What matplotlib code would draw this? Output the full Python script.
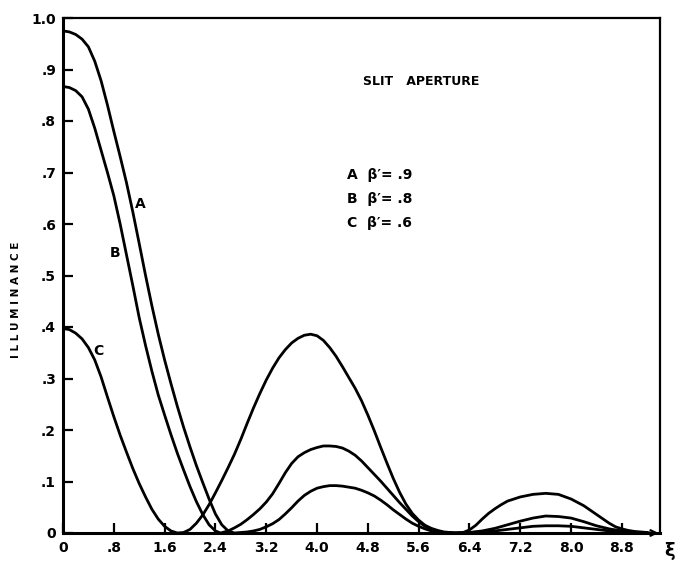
import matplotlib
matplotlib.use("Agg")
import matplotlib.pyplot as plt

# Illuminance profiles for a slit aperture, three coherence values
a_xi = [0.0, 0.1, 0.2, 0.3, 0.4, 0.5, 0.6, 0.7, 0.8, 0.9, 1.0, 1.1, 1.2, 1.3, 1.4,
        1.5, 1.6, 1.7, 1.8, 1.9, 2.0, 2.1, 2.2, 2.3, 2.4, 2.5, 2.6, 2.7, 2.8, 2.9,
        3.0, 3.1, 3.2, 3.3, 3.4, 3.5, 3.6, 3.7, 3.8, 3.9, 4.0, 4.1, 4.2, 4.3, 4.4,
        4.5, 4.6, 4.7, 4.8, 4.9, 5.0, 5.1, 5.2, 5.3, 5.4, 5.5, 5.6, 5.7, 5.8, 5.9,
        6.0, 6.15, 6.4, 6.6, 6.8, 7.0, 7.2, 7.4, 7.6, 7.8, 8.0, 8.2, 8.4, 8.6, 8.8,
        9.0, 9.2]
a_val = [0.975, 0.973, 0.968, 0.959, 0.944, 0.916, 0.878, 0.831, 0.780, 0.731,
         0.680, 0.623, 0.562, 0.500, 0.441, 0.386, 0.336, 0.290, 0.246, 0.205,
         0.167, 0.131, 0.098, 0.066, 0.037, 0.016, 0.004, 0.0, 0.001, 0.002,
         0.004, 0.007, 0.012, 0.018, 0.026, 0.037, 0.049, 0.062, 0.073, 0.081,
         0.087, 0.090, 0.092, 0.092, 0.091, 0.089, 0.087, 0.083, 0.078, 0.072,
         0.064, 0.055, 0.045, 0.036, 0.027, 0.019, 0.013, 0.008, 0.004, 0.002,
         0.001, 0.0, 0.001, 0.002, 0.004, 0.007, 0.010, 0.013, 0.014, 0.014,
         0.013, 0.010, 0.007, 0.004, 0.002, 0.001, 0.0]

b_xi = [0.0, 0.1, 0.2, 0.3, 0.4, 0.5, 0.6, 0.7, 0.8, 0.9, 1.0, 1.1, 1.2, 1.3, 1.4,
        1.5, 1.6, 1.7, 1.8, 1.9, 2.0, 2.1, 2.2, 2.3, 2.4, 2.48, 2.6, 2.7, 2.8, 2.9,
        3.0, 3.1, 3.2, 3.3, 3.4, 3.5, 3.6, 3.7, 3.8, 3.9, 4.0, 4.1, 4.2, 4.3, 4.4,
        4.5, 4.6, 4.7, 4.8, 4.9, 5.0, 5.1, 5.2, 5.3, 5.4, 5.5, 5.6, 5.7, 5.8, 5.9,
        6.0, 6.15, 6.4, 6.6, 6.8, 7.0, 7.2, 7.4, 7.6, 7.8, 8.0, 8.2, 8.4, 8.6, 8.8,
        9.0, 9.2]
b_val = [0.867, 0.865, 0.859, 0.847, 0.823, 0.786, 0.743, 0.700, 0.655, 0.600,
         0.540, 0.480, 0.418, 0.364, 0.314, 0.268, 0.229, 0.191, 0.155, 0.122,
         0.090, 0.061, 0.036, 0.016, 0.004, 0.0, 0.004, 0.010, 0.017, 0.026,
         0.036, 0.047, 0.060, 0.076, 0.096, 0.117, 0.135, 0.148, 0.156, 0.162,
         0.166, 0.169, 0.169, 0.168, 0.165, 0.159, 0.151, 0.140, 0.127, 0.114,
         0.101, 0.087, 0.073, 0.059, 0.046, 0.033, 0.022, 0.013, 0.007, 0.003,
         0.001, 0.0, 0.001, 0.004, 0.009, 0.016, 0.023, 0.029, 0.033, 0.032,
         0.029, 0.022, 0.014, 0.008, 0.004, 0.001, 0.0]

c_xi = [0.0, 0.1, 0.2, 0.3, 0.4, 0.5, 0.6, 0.7, 0.8, 0.9, 1.0, 1.1, 1.2, 1.3, 1.4,
        1.5, 1.6, 1.7, 1.8, 1.9, 2.0, 2.1, 2.2, 2.3, 2.4, 2.5, 2.6, 2.7, 2.8, 2.9,
        3.0, 3.1, 3.2, 3.3, 3.4, 3.5, 3.6, 3.7, 3.8, 3.9, 4.0, 4.1, 4.2, 4.3, 4.4,
        4.5, 4.6, 4.7, 4.8, 4.9, 5.0, 5.1, 5.2, 5.3, 5.4, 5.5, 5.6, 5.7, 5.8, 5.9,
        6.0, 6.2, 6.3, 6.4, 6.5, 6.6, 6.7, 6.8, 6.9, 7.0, 7.2, 7.4, 7.6, 7.8, 8.0,
        8.2, 8.4, 8.6, 8.7, 8.8, 8.9, 9.0, 9.1, 9.2, 9.25]
c_val = [0.397, 0.395, 0.388, 0.377, 0.360, 0.336, 0.303, 0.264, 0.226, 0.190,
         0.157, 0.125, 0.096, 0.070, 0.046, 0.027, 0.013, 0.004, 0.0, 0.001,
         0.007, 0.019, 0.035, 0.055, 0.078, 0.102, 0.127, 0.153, 0.182, 0.213,
         0.243, 0.271, 0.297, 0.320, 0.340, 0.356, 0.369, 0.378, 0.384, 0.386,
         0.383, 0.374, 0.360, 0.343, 0.323, 0.302, 0.281, 0.257, 0.229, 0.199,
         0.167, 0.136, 0.106, 0.079, 0.056, 0.038, 0.025, 0.015, 0.009, 0.005,
         0.002, 0.0, 0.001, 0.006, 0.015, 0.027, 0.038, 0.047, 0.055, 0.062,
         0.070, 0.075, 0.077, 0.075, 0.066, 0.053, 0.036, 0.019, 0.012, 0.008,
         0.005, 0.003, 0.002, 0.001, 0.0]

x_ticks = [0.0, 0.8, 1.6, 2.4, 3.2, 4.0, 4.8, 5.6, 6.4, 7.2, 8.0, 8.8]
x_labels = ["0", ".8", "1.6", "2.4", "3.2", "4.0", "4.8", "5.6", "6.4", "7.2", "8.0", "8.8"]
y_ticks = [0.0, 0.1, 0.2, 0.3, 0.4, 0.5, 0.6, 0.7, 0.8, 0.9, 1.0]
y_labels = ["0", ".1", ".2", ".3", ".4", ".5", ".6", ".7", ".8", ".9", "1.0"]

legend_rows = ["A  β\u2032= .9", "B  β\u2032= .8", "C  β\u2032= .6"]

plt.rcParams["font.family"] = ["DejaVu Sans"]
plt.rcParams["font.weight"] = "bold"

fig = plt.figure(figsize=(6.87, 5.65), dpi=100)
ax = fig.add_axes([63 / 687, 32 / 565, 597 / 687, 515 / 565])

for xs, ys in ((a_xi, a_val), (b_xi, b_val), (c_xi, c_val)):
    ax.plot(xs, ys, color="black", lw=2.0, solid_capstyle="round", solid_joinstyle="round")

ax.set_xlim(0, 9.40)
ax.set_ylim(0, 1.0)

ax.set_xticks(x_ticks)
ax.set_xticklabels(x_labels, fontsize=10, fontweight="bold")
ax.set_yticks(y_ticks)
ax.set_yticklabels(y_labels, fontsize=10, fontweight="bold")
ax.tick_params(axis="both", direction="in", length=7, width=1.6, color="black")
ax.tick_params(axis="x", pad=6)
ax.tick_params(axis="y", pad=5)

for side in ("left", "bottom"):
    ax.spines[side].set_linewidth(2.2)
for side in ("top", "right"):
    ax.spines[side].set_linewidth(1.6)

# arrow head at the end of the xi axis
ax.annotate("", xy=(9.42, 0), xytext=(9.25, 0),
            arrowprops=dict(arrowstyle="->", lw=1.6, color="black"),
            annotation_clip=False)
ax.text(9.47, -0.035, "ξ", fontsize=13, ha="left", va="center", clip_on=False)

ax.text(5.64, 0.876, "SLIT   APERTURE", fontsize=9, fontweight="bold",
        ha="center", va="center")
for i, row in enumerate(legend_rows):
    ax.text(4.47, 0.695 - i * 0.047, row, fontsize=10, fontweight="bold",
            ha="left", va="center")

ax.text(1.21, 0.638, "A", fontsize=10, fontweight="bold", ha="center", va="center")
ax.text(0.82, 0.544, "B", fontsize=10, fontweight="bold", ha="center", va="center")
ax.text(0.55, 0.354, "C", fontsize=10, fontweight="bold", ha="center", va="center")

fig.text(0.023, 0.470, " ".join("ILLUMINANCE"), rotation=90, fontsize=7.5,
         fontweight="bold", ha="center", va="center")

fig.savefig("out.png", dpi=100)
